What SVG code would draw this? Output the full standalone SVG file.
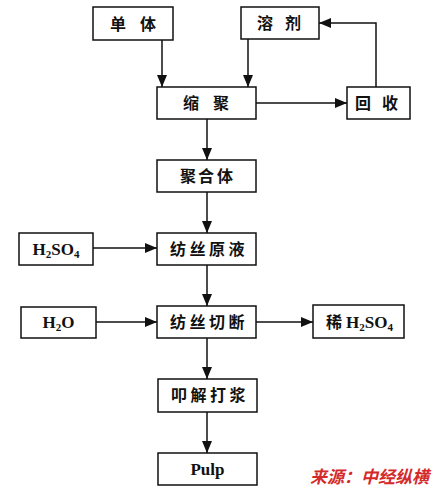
<svg xmlns="http://www.w3.org/2000/svg" width="434" height="489" viewBox="0 0 434 489">
<style>
.box{fill:#fff;stroke:#111;stroke-width:1.5}
.cn{font-family:"Noto Sans CJK SC","Noto Sans CJK JP",sans-serif;font-size:16px;font-weight:700;fill:#111}
.en{font-family:"Liberation Serif","Times New Roman",serif;font-size:17px;font-weight:700;fill:#111}
.sub{font-size:11px}
.con{stroke:#111;stroke-width:1.5;fill:none;marker-end:url(#ah)}
.src{font-family:"Noto Sans CJK SC",sans-serif;font-size:17px;font-weight:700;font-style:italic;fill:#d42a2a}
</style>
<defs>
<marker id="ah" markerUnits="userSpaceOnUse" markerWidth="13" markerHeight="10" refX="12" refY="5" orient="auto">
<path d="M0,0 L12,5 L0,10 Z" fill="#111"/>
</marker>
</defs>
<rect width="434" height="489" fill="#fff"/>
<g id="connectors">
<path class="con" d="M162,40 V87"/>
<path class="con" d="M248,39 V87"/>
<path class="con" d="M256,103 H347"/>
<path class="con" d="M376,87 V23 H319"/>
<path class="con" d="M207,119 V160"/>
<path class="con" d="M207,192 V233"/>
<path class="con" d="M93,248 H157"/>
<path class="con" d="M207,265 V306"/>
<path class="con" d="M96,322 H157"/>
<path class="con" d="M256,322 H313"/>
<path class="con" d="M207,338 V379"/>
<path class="con" d="M207,412 V453"/>
</g>
<g id="danti"><rect class="box" x="93" y="7" width="80" height="33"/><text class="cn" x="110 140" y="29.5">单体</text></g>
<g id="rongji"><rect class="box" x="241" y="7" width="78" height="32"/><text class="cn" x="257 285" y="29">溶剂</text></g>
<g id="suoju"><rect class="box" x="157" y="87" width="99" height="32"/><text class="cn" x="183 213" y="109">缩聚</text></g>
<g id="huishou"><rect class="box" x="347" y="87" width="63" height="32"/><text class="cn" x="355 382" y="109">回收</text></g>
<g id="juheti"><rect class="box" x="157" y="160" width="99" height="32"/><text class="cn" x="180 198 217" y="182">聚合体</text></g>
<g id="fangsiyuanye"><rect class="box" x="157" y="233" width="99" height="32"/><text class="cn" x="170 189.5 209 228.5" y="255">纺丝原液</text></g>
<g id="h2so4"><rect class="box" x="19" y="233" width="74" height="32"/><text class="en" x="56" y="255" text-anchor="middle">H<tspan class="sub" dy="3">2</tspan><tspan dy="-3">SO</tspan><tspan class="sub" dy="3">4</tspan></text></g>
<g id="fangsiqieduan"><rect class="box" x="157" y="306" width="99" height="32"/><text class="cn" x="170 189.5 209 228.5" y="328">纺丝切断</text></g>
<g id="h2o"><rect class="box" x="21" y="307" width="75" height="31"/><text class="en" x="58.5" y="328" text-anchor="middle">H<tspan class="sub" dy="3">2</tspan><tspan dy="-3">O</tspan></text></g>
<g id="xih2so4"><rect class="box" x="313" y="305" width="91" height="33"/><text class="en" x="326" y="328"><tspan class="cn">稀</tspan><tspan dx="4">H</tspan><tspan class="sub" dy="3">2</tspan><tspan dy="-3">SO</tspan><tspan class="sub" dy="3">4</tspan></text></g>
<g id="koujie"><rect class="box" x="158" y="379" width="99" height="33"/><text class="cn" x="171 190.5 210 229.5" y="401">叩解打浆</text></g>
<g id="pulp"><rect class="box" x="158" y="453" width="99" height="32"/><text class="en" x="207.5" y="475" text-anchor="middle">Pulp</text></g>
<text class="src" x="310" y="483">来源：中经纵横</text>
</svg>
